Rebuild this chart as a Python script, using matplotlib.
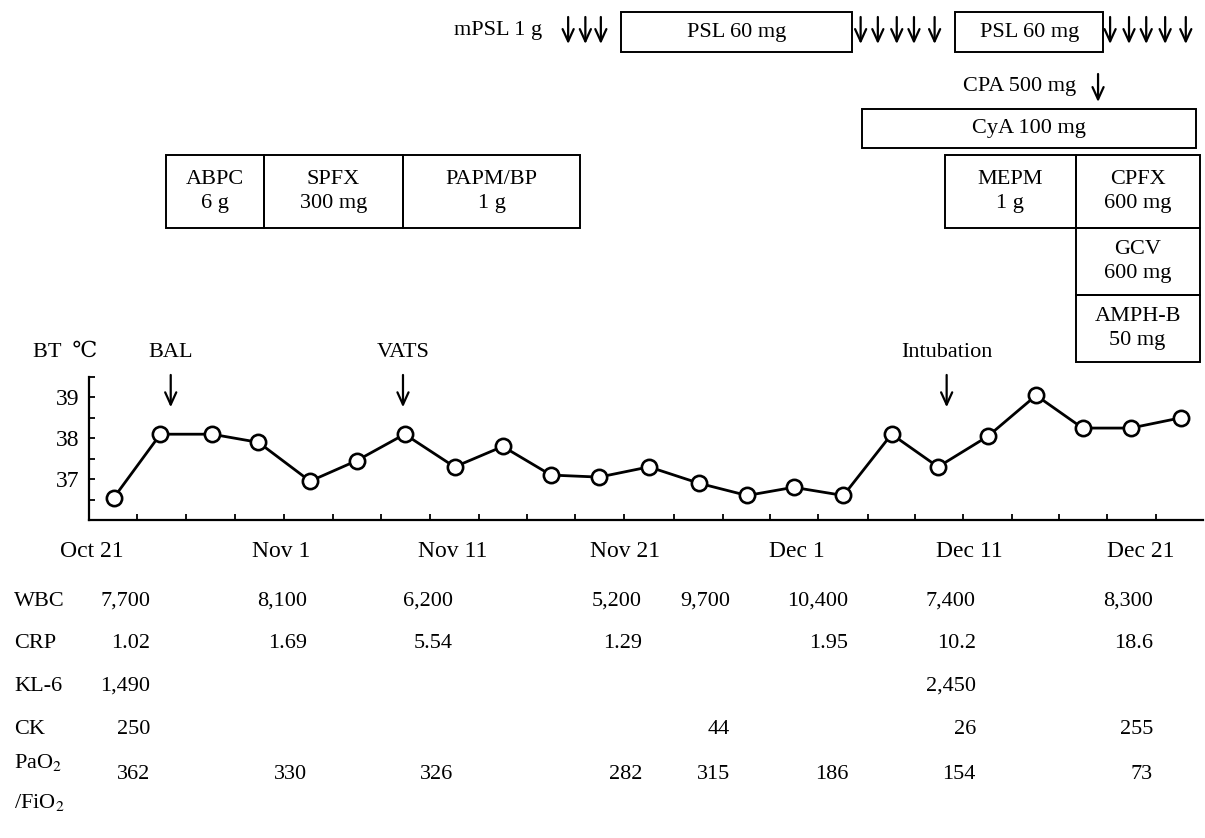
import numpy as np
import matplotlib.pyplot as plt
from matplotlib.patches import Rectangle
from matplotlib.transforms import blended_transform_factory

plt.rcParams['font.family'] = ['Liberation Serif', 'DejaVu Serif']
plt.rcParams['mathtext.fontset'] = 'stix'
plt.rcParams['font.size'] = 16

# body temperature, x = days since Oct 21
bt_days = [1.3, 4.0, 7.0, 9.7, 12.7, 15.4, 18.2, 21.1, 23.9, 26.7, 29.5, 32.4,
           35.3, 38.1, 40.8, 43.7, 46.5, 49.2, 52.1, 54.9, 57.6, 60.4, 63.3]
bt_temp = [36.55, 38.1, 38.1, 37.9, 36.95, 37.45, 38.1, 37.3, 37.8, 37.1, 37.05,
           37.3, 36.9, 36.6, 36.8, 36.6, 38.1, 37.3, 38.05, 39.05, 38.25, 38.25,
           38.5]
date_days = [0, 11, 21, 31, 41, 51, 61]
date_labels = ['Oct 21', 'Nov 1', 'Nov 11', 'Nov 21', 'Dec 1', 'Dec 11', 'Dec 21']

events = ['BAL', 'VATS', 'Intubation']
event_days = [4.6, 18.1, 49.7]

# treatments
drug_names = ['PSL 60 mg', 'PSL 60 mg', 'CyA 100 mg', 'ABPC\n6 g',
              'SPFX\n300 mg', 'PAPM/BP\n1 g', 'MEPM\n1 g', 'CPFX\n600 mg',
              'GCV\n600 mg', 'AMPH-B\n50 mg']
drug_start = [30.8, 50.2, 44.8, 4.3, 10.0, 18.1, 49.6, 57.2, 57.2, 57.2]
drug_end = [44.2, 58.8, 64.2, 10.0, 18.1, 28.4, 57.2, 64.4, 64.4, 64.4]
drug_row = [0, 0, 1, 2, 2, 2, 2, 2, 3, 4]
pulse_days = [27.7, 28.7, 29.6, 44.7, 45.7, 46.8, 47.8, 49.0,
              59.2, 60.3, 61.3, 62.4, 63.6]
cpa_day = 58.5

# lab table
lab_days = [3.4, 12.5, 21.0, 32.0, 37.1, 44.0, 51.4, 61.7]
wbc = ['7,700', '8,100', '6,200', '5,200', '9,700', '10,400', '7,400', '8,300']
crp = ['1.02', '1.69', '5.54', '1.29', '', '1.95', '10.2', '18.6']
kl6 = ['1,490', '', '', '', '', '', '2,450', '']
ck = ['250', '', '', '', '44', '', '26', '255']
pf_ratio = ['362', '330', '326', '282', '315', '186', '154', '73']

W, H = 1205, 838
fig = plt.figure(figsize=(W / 100, H / 100), dpi=100)
L, R, T, B = 89, 1203, 377, 520
ax = fig.add_axes([L / W, 1 - B / H, (R - L) / W, (B - T) / H])
ax_top = fig.add_axes([L / W, 1 - T / H, (R - L) / W, T / H], sharex=ax)

arrow = dict(arrowstyle='->,head_length=0.55,head_width=0.25', lw=1.6,
             color='black', shrinkA=0, shrinkB=0)

############################ temperature ############################
ax.plot(bt_days, bt_temp, color='black', lw=2.0, marker='o', ms=11,
        mfc='white', mec='black', mew=1.9, zorder=3)
ax.set_xlim(-0.15, 64.6)
ax.set_ylim(36, 39.5)
for s in ['top', 'right']:
    ax.spines[s].set_visible(False)
for s in ['left', 'bottom']:
    ax.spines[s].set_linewidth(1.6)
ax.set_yticks([37, 38, 39])
ax.set_yticks([36.5, 37.5, 38.5, 39.5], minor=True)
ax.set_xticks(date_days)
ax.set_xticklabels(date_labels, fontsize=17)
mids = (np.array(bt_days[:-1]) + np.array(bt_days[1:])) / 2
ax.set_xticks(mids, minor=True)
ax.tick_params(axis='y', which='both', direction='in', length=4, width=1.3,
               labelsize=17, pad=7)
ax.tick_params(axis='x', which='major', length=0, pad=15)
ax.tick_params(axis='x', which='minor', direction='in', length=4, width=1.3)

for name, d in zip(events, event_days):
    ax.annotate('', xy=(d, 38.76), xytext=(d, 39.55), arrowprops=arrow,
                annotation_clip=False)
    ax.text(d, 40.1, name, ha='center', va='center', fontsize=16, clip_on=False)
fig.text(33 / W, 1 - 352 / H, 'BT  \u2103', ha='left', va='center', fontsize=16)

############################ treatments ############################
ax_top.set_ylim(T, 0)
ax_top.axis('off')
row_top = [12, 109, 155, 228, 295]
row_bot = [52, 148, 228, 295, 362]
for name, s, e, r in zip(drug_names, drug_start, drug_end, drug_row):
    y0, y1 = row_top[r], row_bot[r]
    ax_top.add_patch(Rectangle((s, y0), e - s, y1 - y0, fill=False,
                               ec='black', lw=1.4))
    ax_top.text((s + e) / 2, (y0 + y1) / 2, name, ha='center', va='center',
                fontsize=16, linespacing=1.3)

for d in pulse_days:
    ax_top.annotate('', xy=(d, 44), xytext=(d, 17), arrowprops=arrow)
ax_top.text(pulse_days[0] - 1.5, 30, 'mPSL 1 g', ha='right', va='center',
            fontsize=16)
ax_top.annotate('', xy=(cpa_day, 102), xytext=(cpa_day, 74), arrowprops=arrow)
ax_top.text(cpa_day - 1.3, 87, 'CPA 500 mg', ha='right', va='center', fontsize=16)

############################ lab table ############################
tr = blended_transform_factory(ax.transData, fig.transFigure)
lab_rows = [wbc, crp, kl6, ck, pf_ratio]
row_names = ['WBC', 'CRP', 'KL-6', 'CK', None]
row_y = [601, 643, 686, 729, 774]
for vals, name, y in zip(lab_rows, row_names, row_y):
    if name:
        fig.text(14 / W, 1 - y / H, name, ha='left', va='center', fontsize=16)
    for d, v in zip(lab_days, vals):
        if v:
            ax.text(d, 1 - y / H, v, transform=tr, ha='right', va='center',
                    fontsize=16)
fig.text(14 / W, 1 - 762 / H, 'PaO$_2$', ha='left', va='center', fontsize=16)
fig.text(14 / W, 1 - 802 / H, '/FiO$_2$', ha='left', va='center', fontsize=16)

fig.savefig('out.png', dpi=100)
